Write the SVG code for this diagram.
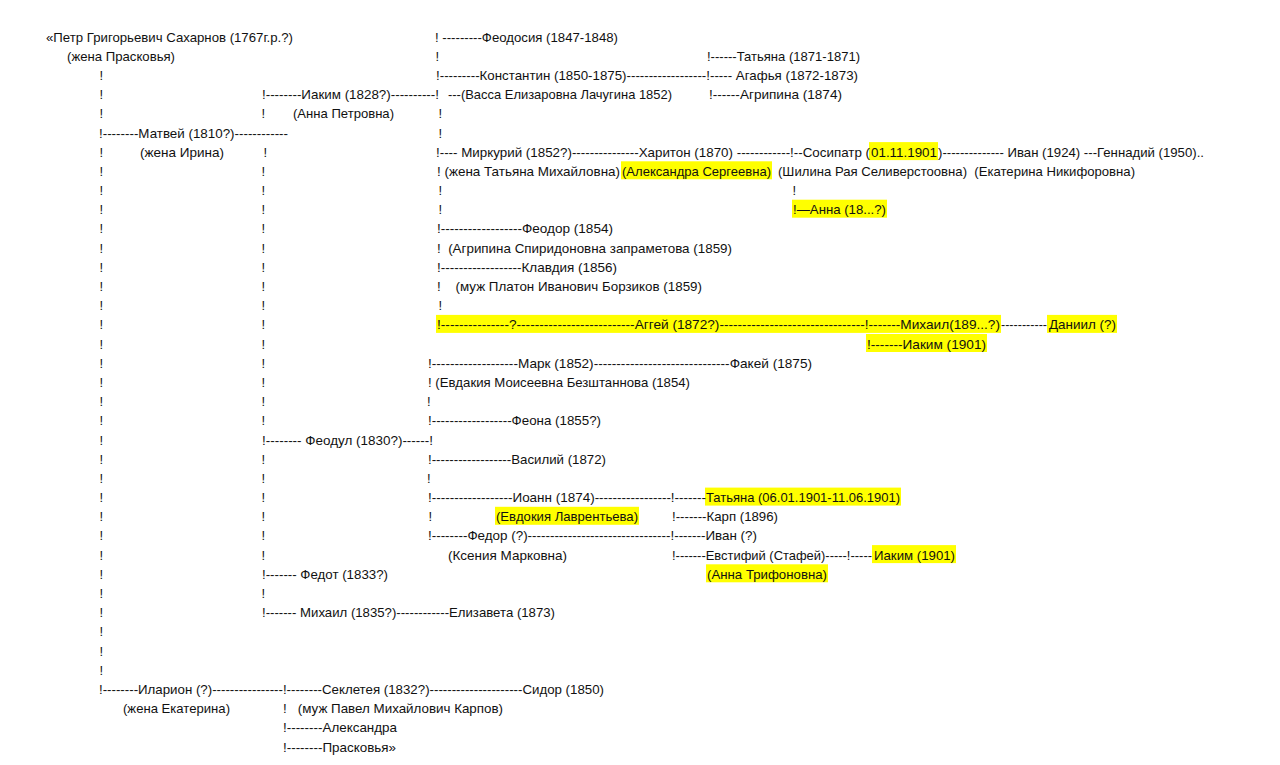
<svg xmlns="http://www.w3.org/2000/svg" width="1280" height="765" viewBox="0 0 1280 765">
<style>
text{font-family:"Liberation Sans",Arial,sans-serif;font-size:13px;fill:#111;white-space:pre}
.hl{fill:#ffff00}
</style>
<rect width="1280" height="765" fill="#fff"/>
<g id="highlights">
<rect class="hl" x="869" y="142.1" width="69" height="18"/>
<rect class="hl" x="621" y="161.3" width="151" height="18"/>
<rect class="hl" x="792" y="199.7" width="95" height="18"/>
<rect class="hl" x="436" y="314.9" width="565" height="18"/>
<rect class="hl" x="1047" y="314.9" width="70" height="18"/>
<rect class="hl" x="866" y="334" width="121" height="18"/>
<rect class="hl" x="705" y="487.6" width="196" height="18"/>
<rect class="hl" x="495" y="506.8" width="144" height="18"/>
<rect class="hl" x="872" y="545.1" width="84" height="18"/>
<rect class="hl" x="706" y="564.3" width="122" height="18"/>
</g>
<g id="connectors">
<text x="99.5" y="79.9">!</text><text x="99.5" y="99.1">!</text><text x="99.5" y="118.3">!</text>
<text x="99.5" y="156.6">!</text><text x="99.5" y="175.8">!</text><text x="99.5" y="195">!</text><text x="99.5" y="214.2">!</text>
<text x="99.5" y="233.4">!</text><text x="99.5" y="252.6">!</text><text x="99.5" y="271.8">!</text><text x="99.5" y="291">!</text>
<text x="99.5" y="310.2">!</text><text x="99.5" y="329.4">!</text><text x="99.5" y="348.5">!</text><text x="99.5" y="367.7">!</text>
<text x="99.5" y="386.9">!</text><text x="99.5" y="406.1">!</text><text x="99.5" y="425.3">!</text><text x="99.5" y="444.5">!</text>
<text x="99.5" y="463.7">!</text><text x="99.5" y="482.9">!</text><text x="99.5" y="502.1">!</text><text x="99.5" y="521.3">!</text>
<text x="99.5" y="540.4">!</text><text x="99.5" y="559.6">!</text><text x="99.5" y="578.8">!</text><text x="99.5" y="598">!</text>
<text x="99.5" y="617.2">!</text><text x="99.5" y="636.4">!</text><text x="99.5" y="655.6">!</text><text x="99.5" y="674.8">!</text>
<text x="261.5" y="118.3">!</text><text x="263.5" y="156.6">!</text><text x="261.5" y="175.8">!</text><text x="261.5" y="195">!</text>
<text x="261.5" y="214.2">!</text><text x="261.5" y="233.4">!</text><text x="261.5" y="252.6">!</text><text x="261.5" y="271.8">!</text>
<text x="261.5" y="291">!</text><text x="261.5" y="310.2">!</text><text x="261.5" y="329.4">!</text><text x="261.5" y="348.5">!</text>
<text x="261.5" y="367.7">!</text><text x="261.5" y="386.9">!</text><text x="261.5" y="406.1">!</text><text x="261.5" y="425.3">!</text>
<text x="261.5" y="463.7">!</text><text x="261.5" y="482.9">!</text><text x="261.5" y="502.1">!</text><text x="261.5" y="521.3">!</text>
<text x="261.5" y="540.4">!</text><text x="261.5" y="559.6">!</text><text x="261.5" y="598">!</text>
<text x="435.5" y="60.7">!</text><text x="438.5" y="118.3">!</text><text x="438.5" y="137.5">!</text>
<text x="438.5" y="195">!</text><text x="438.5" y="214.2">!</text><text x="438.5" y="310.2">!</text>
<text x="792.5" y="195">!</text>
<text x="427" y="406.1">!</text><text x="427" y="482.9">!</text><text x="428.5" y="521.3">!</text>
</g>
<g id="petr"><text x="46" y="41.5" textLength="247" lengthAdjust="spacingAndGlyphs">«Петр Григорьевич Сахарнов (1767г.р.?)</text>
<text x="67" y="60.7" textLength="108" lengthAdjust="spacingAndGlyphs">(жена Прасковья)</text></g>
<g id="feodosiya"><text x="435" y="41.5" textLength="183" lengthAdjust="spacingAndGlyphs">! ---------Феодосия (1847-1848)</text></g>
<g id="tatyana1871"><text x="707" y="60.7" textLength="153" lengthAdjust="spacingAndGlyphs">!------Татьяна (1871-1871)</text></g>
<g id="konstantin"><text x="436" y="79.9" textLength="422" lengthAdjust="spacingAndGlyphs">!---------Константин (1850-1875)------------------!----- Агафья (1872-1873)</text></g>
<g id="iakim1828"><text x="262" y="99.1" textLength="177" lengthAdjust="spacingAndGlyphs">!--------Иаким (1828?)----------!</text>
<text x="448" y="99.1" textLength="224" lengthAdjust="spacingAndGlyphs">---(Васса Елизаровна Лачугина 1852)</text>
<text x="293" y="118.3" textLength="101" lengthAdjust="spacingAndGlyphs">(Анна Петровна)</text></g>
<g id="agripina1874"><text x="709" y="99.1" textLength="133" lengthAdjust="spacingAndGlyphs">!------Агрипина (1874)</text></g>
<g id="matvey"><text x="99" y="137.5" textLength="189" lengthAdjust="spacingAndGlyphs">!--------Матвей (1810?)------------</text>
<text x="140" y="156.6" textLength="84" lengthAdjust="spacingAndGlyphs">(жена Ирина)</text></g>
<g id="mirkuriy"><text x="436" y="156.6" textLength="434" lengthAdjust="spacingAndGlyphs">!---- Миркурий (1852?)---------------Харитон (1870) ------------!--Сосипатр (</text>
<text x="871" y="156.6" textLength="66" lengthAdjust="spacingAndGlyphs">01.11.1901</text>
<text x="938" y="156.6" textLength="266" lengthAdjust="spacingAndGlyphs">)-------------- Иван (1924) ---Геннадий (1950)..</text>
<text x="437" y="175.8" textLength="183" lengthAdjust="spacingAndGlyphs">! (жена Татьяна Михайловна)</text>
<text x="622" y="175.8" textLength="149" lengthAdjust="spacingAndGlyphs">(Александра Сергеевна)</text>
<text x="778" y="175.8" textLength="357" lengthAdjust="spacingAndGlyphs">(Шилина Рая Селиверстоовна)  (Екатерина Никифоровна)</text></g>
<g id="anna18"><text x="793" y="214.2" textLength="93" lengthAdjust="spacingAndGlyphs">!—Анна (18...?)</text></g>
<g id="feodor1854"><text x="437" y="233.4" textLength="176" lengthAdjust="spacingAndGlyphs">!------------------Феодор (1854)</text>
<text x="437" y="252.6" textLength="295" lengthAdjust="spacingAndGlyphs">!  (Агрипина Спиридоновна запраметова (1859)</text></g>
<g id="klavdiya"><text x="437" y="271.8" textLength="180" lengthAdjust="spacingAndGlyphs">!------------------Клавдия (1856)</text>
<text x="437" y="291" textLength="265" lengthAdjust="spacingAndGlyphs">!    (муж Платон Иванович Борзиков (1859)</text></g>
<g id="aggey"><text x="437" y="329.4" textLength="563" lengthAdjust="spacingAndGlyphs">!---------------?--------------------------Аггей (1872?)--------------------------------!-------Михаил(189...?)</text>
<text x="1001" y="329.4" textLength="46" lengthAdjust="spacingAndGlyphs">-----------</text>
<text x="1049" y="329.4" textLength="67" lengthAdjust="spacingAndGlyphs">Даниил (?)</text>
<text x="867" y="348.5" textLength="119" lengthAdjust="spacingAndGlyphs">!-------Иаким (1901)</text></g>
<g id="mark"><text x="428" y="367.7" textLength="384" lengthAdjust="spacingAndGlyphs">!-------------------Марк (1852)------------------------------Факей (1875)</text>
<text x="428" y="386.9" textLength="262" lengthAdjust="spacingAndGlyphs">! (Евдакия Моисеевна Безштаннова (1854)</text></g>
<g id="feona"><text x="428" y="425.3" textLength="173" lengthAdjust="spacingAndGlyphs">!------------------Феона (1855?)</text></g>
<g id="feodul"><text x="262" y="444.5" textLength="171" lengthAdjust="spacingAndGlyphs">!-------- Феодул (1830?)------!</text></g>
<g id="vasiliy"><text x="428" y="463.7" textLength="178" lengthAdjust="spacingAndGlyphs">!------------------Василий (1872)</text></g>
<g id="ioann"><text x="428" y="502.1" textLength="278" lengthAdjust="spacingAndGlyphs">!------------------Иоанн (1874)-----------------!-------</text>
<text x="706" y="502.1" textLength="194" lengthAdjust="spacingAndGlyphs">Татьяна (06.01.1901-11.06.1901)</text>
<text x="496" y="521.3" textLength="142" lengthAdjust="spacingAndGlyphs">(Евдокия Лаврентьева)</text>
<text x="672" y="521.3" textLength="106" lengthAdjust="spacingAndGlyphs">!-------Карп (1896)</text></g>
<g id="fedor"><text x="428" y="540.4" textLength="329" lengthAdjust="spacingAndGlyphs">!--------Федор (?)--------------------------------!-------Иван (?)</text>
<text x="448" y="559.6" textLength="119" lengthAdjust="spacingAndGlyphs">(Ксения Марковна)</text>
<text x="672" y="559.6" textLength="200" lengthAdjust="spacingAndGlyphs">!-------Евстифий (Стафей)-----!-----</text>
<text x="874" y="559.6" textLength="81" lengthAdjust="spacingAndGlyphs">Иаким (1901)</text>
<text x="707" y="578.8" textLength="120" lengthAdjust="spacingAndGlyphs">(Анна Трифоновна)</text></g>
<g id="fedot"><text x="262" y="578.8" textLength="126" lengthAdjust="spacingAndGlyphs">!------- Федот (1833?)</text></g>
<g id="mikhail1835"><text x="262" y="617.2" textLength="293" lengthAdjust="spacingAndGlyphs">!------- Михаил (1835?)------------Елизавета (1873)</text></g>
<g id="illarion"><text x="99" y="694" textLength="505" lengthAdjust="spacingAndGlyphs">!--------Иларион (?)----------------!--------Секлетея (1832?)---------------------Сидор (1850)</text>
<text x="123" y="713.2" textLength="107" lengthAdjust="spacingAndGlyphs">(жена Екатерина)</text>
<text x="283" y="713.2" textLength="220" lengthAdjust="spacingAndGlyphs">!   (муж Павел Михайлович Карпов)</text>
<text x="283" y="732.3" textLength="114" lengthAdjust="spacingAndGlyphs">!--------Александра</text>
<text x="283" y="751.5" textLength="113" lengthAdjust="spacingAndGlyphs">!--------Прасковья»</text></g>
</svg>
